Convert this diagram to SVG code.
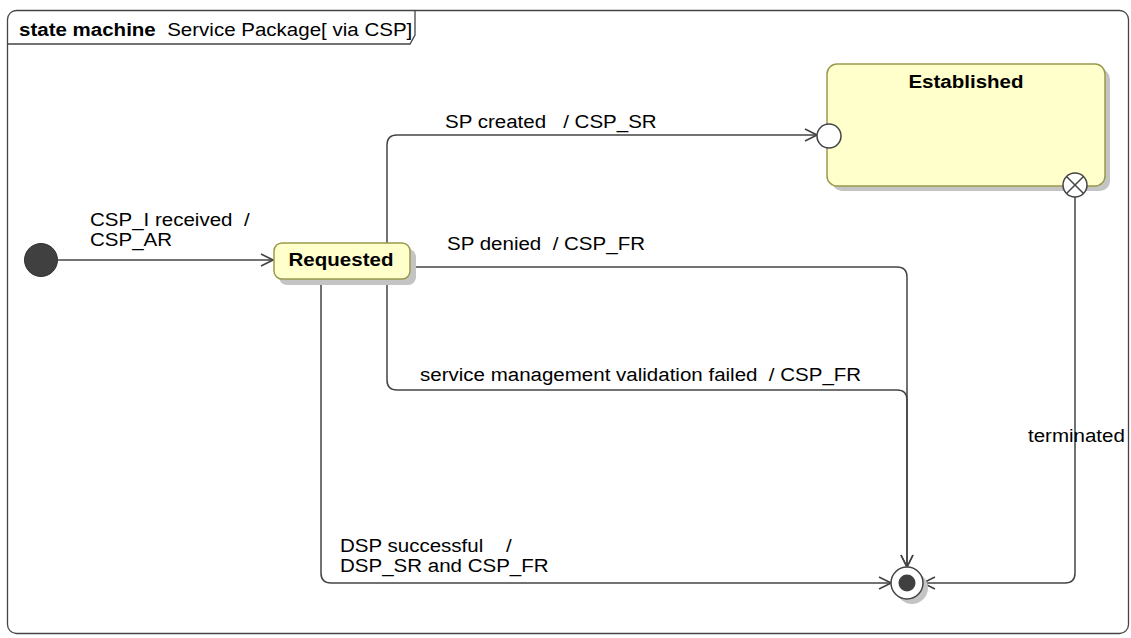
<svg xmlns="http://www.w3.org/2000/svg" width="1131" height="638" viewBox="0 0 1131 638" xml:space="preserve">
<defs>
<marker id="arr" markerUnits="userSpaceOnUse" markerWidth="14" markerHeight="14" refX="13" refY="7" orient="auto">
<path d="M1,1 L13,7 L1,13" fill="none" stroke="#444" stroke-width="1.6"/>
</marker>
</defs>
<style>
text{font-family:"Liberation Sans",Arial,sans-serif;font-size:19px;fill:#000;white-space:pre}
.b{font-weight:bold}
.st{fill:#ffffcc;stroke:#99994d;stroke-width:1.5}
.sh{fill:#c4c4c4}
.ln{fill:none;stroke:#444;stroke-width:1.5}
</style>
<rect x="7.5" y="10.5" width="1121" height="623" rx="9" fill="#fff" stroke="#444" stroke-width="1.3"/>
<path d="M7.5,44 H410 L415,35 V10.5" fill="none" stroke="#444" stroke-width="1.3"/>
<text x="17.59" y="36" transform="scale(1.08,1)"><tspan class="b">state machine</tspan>  Service Package[ via CSP]</text>
<g id="connectors">
<path class="ln" d="M58,260 H273" marker-end="url(#arr)"/>
<path class="ln" d="M387,243 V145 Q387,135 397,135 H817" marker-end="url(#arr)"/>
<path class="ln" d="M410,267 H897 Q907,267 907,277 V567" marker-end="url(#arr)"/>
<path class="ln" d="M387,279 V380 Q387,390 397,390 H897 Q907,390 907,400 V567" marker-end="url(#arr)"/>
<path class="ln" d="M321,279 V573 Q321,583 331,583 H891" marker-end="url(#arr)"/>
<path class="ln" d="M1075,197 V573 Q1075,583 1065,583 H923" marker-end="url(#arr)"/>
<g transform="scale(1.08,1)">
<text x="83.33" y="226">CSP_I received  /</text>
<text x="83.33" y="246">CSP_AR</text>
<text x="412.04" y="128">SP created   / CSP_SR</text>
<text x="413.89" y="250">SP denied  / CSP_FR</text>
<text x="388.89" y="381">service management validation failed  / CSP_FR</text>
<text x="314.81" y="552">DSP successful    /</text>
<text x="314.81" y="572">DSP_SR and CSP_FR</text>
<text x="951.85" y="442">terminated</text>
</g>
</g>
<g id="initial">
<circle cx="41" cy="260" r="16.5" fill="#404040" stroke="#333" stroke-width="1"/>
</g>
<g id="requested">
<rect class="sh" x="279" y="249" width="137" height="36" rx="8"/>
<rect class="st" x="274" y="243" width="136" height="36" rx="8"/>
<text class="b" x="315.74" y="266" text-anchor="middle" transform="scale(1.08,1)">Requested</text>
</g>
<g id="established">
<rect class="sh" x="832" y="69" width="278" height="122" rx="10"/>
<rect class="st" x="827" y="64" width="278" height="122" rx="10"/>
<text class="b" x="894.44" y="88" text-anchor="middle" transform="scale(1.08,1)">Established</text>
<circle cx="829" cy="136" r="12" fill="#fff" stroke="#444" stroke-width="1.5"/>
<g>
<circle cx="1075" cy="185" r="12" fill="#fff" stroke="#444" stroke-width="1.5"/>
<path d="M1066.5,176.5 L1083.5,193.5 M1083.5,176.5 L1066.5,193.5" stroke="#444" stroke-width="1.5"/>
</g>
</g>
<g id="final">
<circle cx="912" cy="588" r="16" fill="#c4c4c4"/>
<circle cx="907" cy="583" r="16" fill="#fff" stroke="#444" stroke-width="1.5"/>
<circle cx="907" cy="583" r="8.5" fill="#404040"/>
</g>
</svg>
